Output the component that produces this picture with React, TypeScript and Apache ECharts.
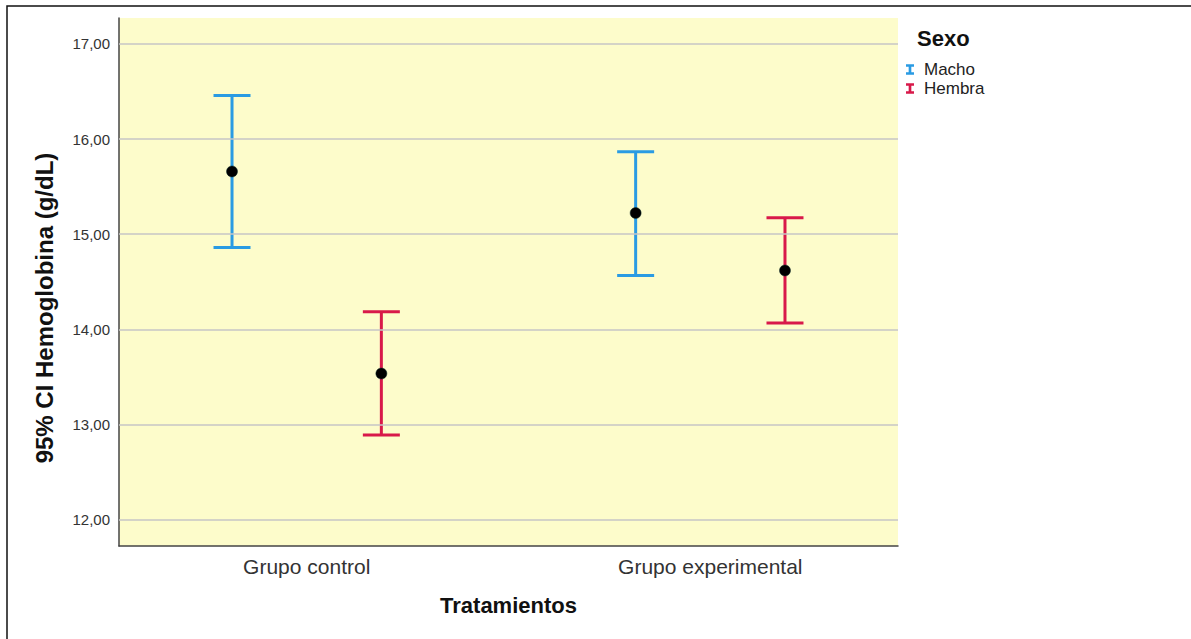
import React, { useEffect, useRef } from 'react';
import * as echarts from 'echarts';

// ---- Data ----
const categories = ['Grupo control', 'Grupo experimental'];
const seriesNames = ['Macho', 'Hembra'];
const machoMean = [15.66, 15.223];
const machoLower = [14.861, 14.567];
const machoUpper = [16.459, 15.867];
const hembraMean = [13.536, 14.619];
const hembraLower = [12.889, 14.066];
const hembraUpper = [14.185, 15.174];
const yTicks = [12, 13, 14, 15, 16, 17];

// ---- Style / layout constants ----
const COLORS = ['#2a9be3', '#d8194a'];
const FONT = '"Liberation Sans", Arial, Helvetica, sans-serif';
const OFFSETS = [-0.185, 0.185];
const CAP_HALF = 18.5;
const ICON = 'path://M0,0 L9,0 L9,3 L6,3 L6,9 L9,9 L9,12 L0,12 L0,9 L3,9 L3,3 L0,3 Z';

const groups = [
  { name: seriesNames[0], mean: machoMean, lower: machoLower, upper: machoUpper },
  { name: seriesNames[1], mean: hembraMean, lower: hembraLower, upper: hembraUpper },
];

export default function App() {
  const ref = useRef<HTMLDivElement>(null);

  useEffect(() => {
    if (!ref.current) return;
    const chart = echarts.init(ref.current, undefined, { renderer: 'svg' });

    const errorSeries = groups.map((g, gi) => ({
      name: g.name,
      type: 'custom',
      z: 2,
      itemStyle: { color: COLORS[gi] },
      encode: { x: 0, y: [1, 2] },
      data: categories.map((_, ci) => [ci + OFFSETS[gi], g.lower[ci], g.upper[ci]]),
      renderItem: (params: any, api: any) => {
        const x = api.value(0);
        const lo = api.coord([x, api.value(1)]);
        const hi = api.coord([x, api.value(2)]);
        const style = { stroke: COLORS[gi], lineWidth: 3, fill: 'none' };
        return {
          type: 'group',
          children: [
            { type: 'line', shape: { x1: lo[0], y1: lo[1], x2: hi[0], y2: hi[1] }, style },
            { type: 'line', shape: { x1: hi[0] - CAP_HALF, y1: hi[1], x2: hi[0] + CAP_HALF, y2: hi[1] }, style },
            { type: 'line', shape: { x1: lo[0] - CAP_HALF, y1: lo[1], x2: lo[0] + CAP_HALF, y2: lo[1] }, style },
          ],
        };
      },
    }));

    const meanSeries = groups.map((g, gi) => ({
      name: g.name + ' media',
      type: 'scatter',
      z: 5,
      symbol: 'circle',
      symbolSize: 11,
      itemStyle: { color: '#000', borderColor: '#0a2a2a', borderWidth: 0.5, opacity: 1 },
      data: categories.map((_, ci) => [ci + OFFSETS[gi], g.mean[ci]]),
    }));

    const gridLineSeries = {
      name: 'grid',
      type: 'line',
      z: 1,
      data: [],
      silent: true,
      markLine: {
        silent: true,
        symbol: ['none', 'none'],
        label: { show: false },
        lineStyle: { color: '#c6c6c6', width: 1.5, type: 'solid' },
        data: yTicks.map((v) => ({ yAxis: v })),
      },
    };

    chart.setOption({
      animation: false,
      backgroundColor: '#ffffff',
      textStyle: { fontFamily: FONT },
      title: {
        text: 'Sexo',
        left: 917,
        top: 27,
        padding: 0,
        textStyle: { fontFamily: FONT, fontSize: 22, fontWeight: 'bold', color: '#111' },
      },
      legend: {
        orient: 'vertical',
        left: 906,
        top: 61,
        padding: 0,
        itemWidth: 8,
        itemHeight: 11,
        itemGap: 2,
        selectedMode: false,
        data: seriesNames.map((n) => ({ name: n, icon: ICON })),
        textStyle: { fontFamily: FONT, fontSize: 17, color: '#222', padding: [0, 0, 0, 5] },
      },
      grid: {
        left: 119,
        top: 18,
        right: 293,
        bottom: 93,
        show: true,
        backgroundColor: '#fdfccb',
        borderWidth: 0,
        containLabel: false,
      },
      xAxis: {
        type: 'value',
        min: -0.465,
        max: 1.465,
        name: 'Tratamientos',
        nameLocation: 'middle',
        nameGap: 48,
        nameTextStyle: { fontFamily: FONT, fontSize: 22, fontWeight: 'bold', color: '#111' },
        axisLine: { show: true, onZero: false, lineStyle: { color: '#444', width: 1.5 } },
        axisTick: { show: false },
        splitLine: { show: false },
        axisLabel: {
          customValues: categories.map((_, i) => i),
          formatter: (v: number) => categories[Math.round(v)] ?? '',
          fontFamily: FONT,
          fontSize: 21,
          color: '#333',
          margin: 10,
        },
      },
      yAxis: {
        type: 'value',
        min: 11.723,
        max: 17.273,
        axisLine: { show: true, onZero: false, lineStyle: { color: '#444', width: 1.5 } },
        axisTick: { show: false },
        splitLine: { show: false },
        axisLabel: {
          customValues: yTicks,
          formatter: (v: number) => v.toFixed(2).replace('.', ','),
          fontFamily: FONT,
          fontSize: 15,
          color: '#333',
          margin: 9,
        },
      },
      graphic: [
        {
          type: 'rect',
          silent: true,
          z: -10,
          shape: { x: 7, y: 6, width: 1400, height: 900 },
          style: { fill: 'none', stroke: '#111', lineWidth: 1.5 },
        },
        {
          type: 'text',
          x: 44,
          y: 308,
          rotation: Math.PI / 2,
          style: {
            text: '95% CI Hemoglobina (g/dL)',
            fontFamily: FONT,
            fontSize: 24,
            fontWeight: 'bold',
            fill: '#111',
            align: 'center',
            verticalAlign: 'middle',
          },
        },
      ],
      series: [gridLineSeries, ...errorSeries, ...meanSeries],
    });

    return () => chart.dispose();
  }, []);

  return (
    <div
      ref={ref}
      style={{ position: 'fixed', left: 0, top: 0, width: 1191, height: 639, background: '#fff' }}
    />
  );
}
